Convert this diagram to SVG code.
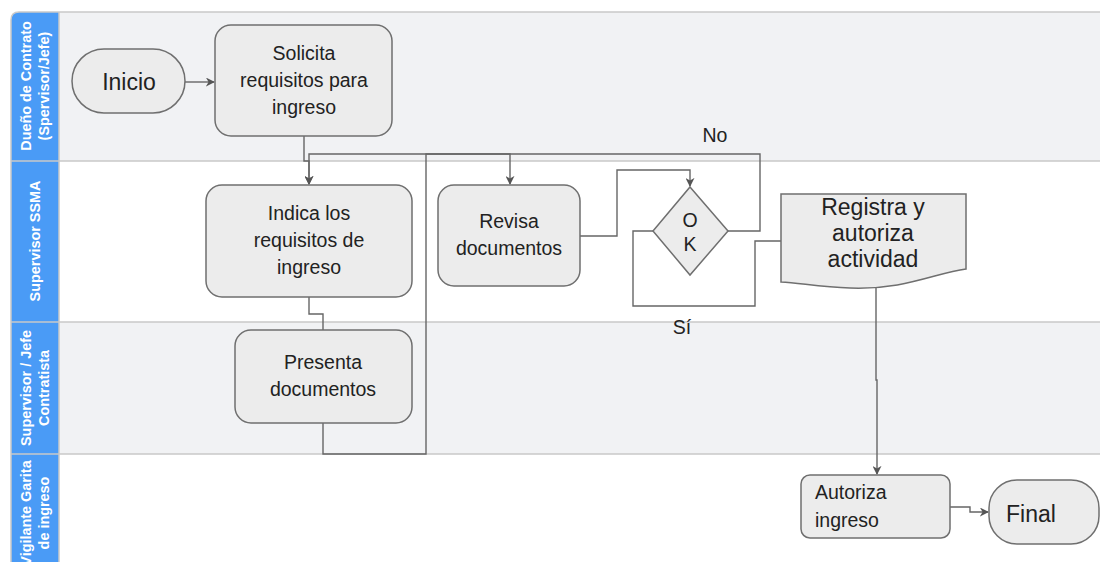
<svg xmlns="http://www.w3.org/2000/svg" width="1100" height="562" viewBox="0 0 1100 562">
<style>
.lane-label{font-family:"Liberation Sans",Arial,sans-serif;font-weight:bold;font-size:14.4px;fill:#ffffff;text-anchor:middle}
.node{fill:#ececec;stroke:#6f6f6f;stroke-width:1.5}
.t{font-family:"Liberation Sans",Arial,sans-serif;font-size:19.5px;fill:#222;text-anchor:middle}
.big{font-size:23px}
.conn{fill:none;stroke:#666;stroke-width:1.4}
.lbl{font-family:"Liberation Sans",Arial,sans-serif;font-size:19.5px;fill:#222;text-anchor:middle}
</style>
<defs>
<marker id="arr" viewBox="0 0 10 10" refX="9" refY="5" markerWidth="9" markerHeight="9" markerUnits="userSpaceOnUse" orient="auto">
<path d="M0,0 L10,5 L0,10 L3,5 Z" fill="#555"/>
</marker>
</defs>
<rect width="1100" height="562" fill="#ffffff"/>
<g id="lanes">
<rect x="59" y="12" width="1041" height="149" fill="#f1f2f4"/>
<rect x="59" y="161" width="1041" height="161" fill="#ffffff"/>
<rect x="59" y="322" width="1041" height="132" fill="#f1f2f4"/>
<rect x="59" y="454" width="1041" height="108" fill="#ffffff"/>
<path d="M11,562 V20 Q11,12 19,12 H59 V562 Z" fill="#4a9bf6"/>
<g stroke="#c9c9c9" stroke-width="1.5" fill="none">
<path d="M19,12 H1100"/>
<path d="M11,161 H1100"/>
<path d="M11,322 H1100"/>
<path d="M11,454 H1100"/>
<path d="M59,12 V562"/>
<path d="M11,562 V20 Q11,12 19,12"/>
</g>
<text class="lane-label" transform="translate(31,86) rotate(-90)">Dueño de Contrato</text>
<text class="lane-label" transform="translate(49,86) rotate(-90)">(Spervisor/Jefe)</text>
<text class="lane-label" transform="translate(40,241) rotate(-90)">Supervisor SSMA</text>
<text class="lane-label" transform="translate(31,388) rotate(-90)">Supervisor / Jefe</text>
<text class="lane-label" transform="translate(49,388) rotate(-90)">Contratista</text>
<text class="lane-label" transform="translate(31,513) rotate(-90)">Vigilante Garita</text>
<text class="lane-label" transform="translate(49,513) rotate(-90)">de ingreso</text>
</g>
<g id="connectors">
<path class="conn" d="M185,82 H214" marker-end="url(#arr)"/>
<path class="conn" d="M304,136 V161 H309 V184" marker-end="url(#arr)"/>
<path class="conn" d="M728,231 H760 V154 H309 V184" marker-end="url(#arr)"/>
<path class="conn" d="M309,297 V314 H323 V330"/>
<path class="conn" d="M323,423 V454 H426 V154 H510 V184" marker-end="url(#arr)"/>
<path class="conn" d="M580,236 H617 V170 H690 V186" marker-end="url(#arr)"/>
<path class="conn" d="M653,231 H633 V306 H755 V241 H781"/>
<path class="conn" d="M876,286 V380 H877 V474" marker-end="url(#arr)"/>
<path class="conn" d="M950,507 H970 V512 H988" marker-end="url(#arr)"/>
<text class="lbl" x="715" y="142">No</text>
<text class="lbl" x="682" y="334">Sí</text>
</g>
<g id="inicio">
<rect class="node" x="72" y="49" width="113" height="64" rx="32"/>
<text class="t big" x="129" y="90">Inicio</text>
</g>
<g id="solicita">
<rect class="node" x="215" y="25" width="177" height="111" rx="16"/>
<text class="t" x="304" y="60">Solicita</text>
<text class="t" x="304" y="87">requisitos para</text>
<text class="t" x="304" y="114">ingreso</text>
</g>
<g id="indica">
<rect class="node" x="206" y="185" width="206" height="112" rx="16"/>
<text class="t" x="309" y="220">Indica los</text>
<text class="t" x="309" y="247">requisitos de</text>
<text class="t" x="309" y="274">ingreso</text>
</g>
<g id="presenta">
<rect class="node" x="235" y="330" width="177" height="93" rx="16"/>
<text class="t" x="323" y="369">Presenta</text>
<text class="t" x="323" y="396">documentos</text>
</g>
<g id="revisa">
<rect class="node" x="438" y="185" width="142" height="101" rx="16"/>
<text class="t" x="509" y="228">Revisa</text>
<text class="t" x="509" y="255">documentos</text>
</g>
<g id="ok">
<path class="node" d="M690,187 L728,231 L690,275 L653,231 Z"/>
<text class="t" x="690" y="227">O</text>
<text class="t" x="690" y="251">K</text>
</g>
<g id="registra">
<path class="node" d="M781,194 H966 V269 C935,273 905,290 850,288 C820,287 800,283 781,282 Z"/>
<text class="t big" x="873" y="215">Registra y</text>
<text class="t big" x="873" y="241">autoriza</text>
<text class="t big" x="873" y="267">actividad</text>
</g>
<g id="autoriza">
<rect class="node" x="801" y="475" width="149" height="63" rx="9"/>
<text class="t" x="815" y="499" style="text-anchor:start">Autoriza</text>
<text class="t" x="815" y="527" style="text-anchor:start">ingreso</text>
</g>
<g id="final">
<rect class="node" x="989" y="480" width="110" height="64" rx="28"/>
<text class="t big" x="1031" y="522">Final</text>
</g>
</svg>
